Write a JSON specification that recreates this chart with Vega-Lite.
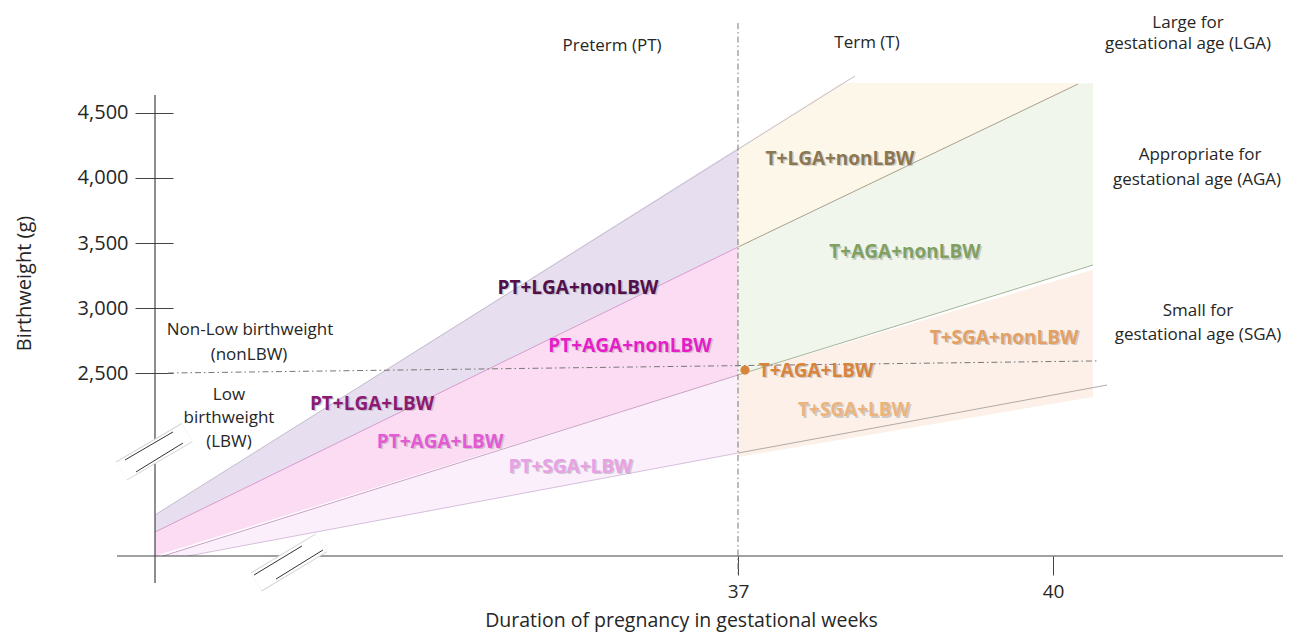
{
  "$schema": "https://vega.github.io/schema/vega-lite/v6.json",
  "width": 1291,
  "height": 633,
  "autosize": "none",
  "padding": 0,
  "background": "white",
  "config": {"view": {"stroke": null}, "font": "Open Sans"},
  "datasets": {
    "bands": [
      {"band": "PT-LGA", "x": 31.4476, "y": 1413, "y2": 1282},
      {"band": "PT-LGA", "x": 37, "y": 4229, "y2": 3469},
      {"band": "PT-AGA", "x": 31.4476, "y": 1282, "y2": 1098},
      {"band": "PT-AGA", "x": 37, "y": 3469, "y2": 2487},
      {"band": "PT-SGA", "x": 31.5238, "y": 1098, "y2": 1098},
      {"band": "PT-SGA", "x": 31.7619, "y": 1159, "y2": 1098},
      {"band": "PT-SGA", "x": 37, "y": 2487, "y2": 1888},
      {"band": "T-LGA", "x": 37, "y": 4229, "y2": 3469},
      {"band": "T-LGA", "x": 37.98, "y": 4728, "y2": 3848},
      {"band": "T-LGA", "x": 40.2381, "y": 4728, "y2": 4720},
      {"band": "T-AGA", "x": 37, "y": 3469, "y2": 2487},
      {"band": "T-AGA", "x": 40.2381, "y": 4720, "y2": 3296},
      {"band": "T-AGA", "x": 40.381, "y": 4728, "y2": 3331},
      {"band": "T-SGA", "x": 37, "y": 2487, "y2": 1858},
      {"band": "T-SGA", "x": 40.381, "y": 3295, "y2": 2318}
    ],
    "boundaries": [
      {"line": "L1", "x": 31.4476, "y": 1413, "x2": 38.1143, "y2": 4782},
      {"line": "L2pt", "x": 31.4476, "y": 1282, "x2": 37, "y2": 3469},
      {"line": "L2t", "x": 37, "y": 3469, "x2": 40.2381, "y2": 4720},
      {"line": "L3pt", "x": 31.5238, "y": 1098, "x2": 37, "y2": 2487},
      {"line": "L3t", "x": 37, "y": 2487, "x2": 40.381, "y2": 3331},
      {"line": "L4pt", "x": 31.7619, "y": 1098, "x2": 37, "y2": 1888},
      {"line": "L4t", "x": 37, "y": 1888, "x2": 40.5143, "y2": 2410}
    ],
    "axislines": [
      {"x": 31.4476, "y": 4636, "x2": 31.4476, "y2": 891},
      {"x": 31.0857, "y": 1098, "x2": 42.1905, "y2": 1098}
    ],
    "dashlines": [
      {"x": 31.5714, "y": 2502, "x2": 40.4286, "y2": 2595},
      {"x": 37, "y": 5188, "x2": 37, "y2": 952}
    ],
    "breakbands": [
      {"x": 31.1276, "y": 1750, "x2": 31.7533, "y2": 2045},
      {"x": 32.4114, "y": 898, "x2": 33.0314, "y2": 1199}
    ],
    "breaklines": [
      {"x": 31.1619, "y": 1835, "x2": 31.619, "y2": 2050},
      {"x": 31.2667, "y": 1743, "x2": 31.7143, "y2": 1965},
      {"x": 32.3905, "y": 952, "x2": 32.8476, "y2": 1175},
      {"x": 32.6, "y": 921, "x2": 33.0476, "y2": 1144}
    ],
    "dot": [{"x": 37.0667, "y": 2525}],
    "labels": [
      {"label": "PT+LGA+nonLBW", "x": 35.4762, "y": 3155},
      {"label": "PT+AGA+nonLBW", "x": 35.9714, "y": 2710},
      {"label": "PT+LGA+LBW", "x": 33.5143, "y": 2265},
      {"label": "PT+AGA+LBW", "x": 34.1619, "y": 1975},
      {"label": "PT+SGA+LBW", "x": 35.4048, "y": 1783},
      {"label": "T+LGA+nonLBW", "x": 37.9714, "y": 4145},
      {"label": "T+AGA+nonLBW", "x": 38.5905, "y": 3431},
      {"label": "T+AGA+LBW", "x": 37.7429, "y": 2518},
      {"label": "T+SGA+nonLBW", "x": 39.5333, "y": 2771},
      {"label": "T+SGA+LBW", "x": 38.1048, "y": 2218}
    ],
    "notes": [
      {"note": "Preterm (PT)", "x": 35.8, "y": 5012},
      {"note": "Term (T)", "x": 38.2286, "y": 5035},
      {"note": "Large for", "x": 41.2857, "y": 5189},
      {"note": "gestational age (LGA)", "x": 41.2857, "y": 5027},
      {"note": "Appropriate for", "x": 41.4, "y": 4175},
      {"note": "gestational age (AGA)", "x": 41.3714, "y": 3984},
      {"note": "Small for", "x": 41.381, "y": 2978},
      {"note": "gestational age (SGA)", "x": 41.381, "y": 2794},
      {"note": "Non-Low birthweight", "x": 32.3524, "y": 2832},
      {"note": "(nonLBW)", "x": 32.3429, "y": 2641},
      {"note": "Low", "x": 32.1524, "y": 2334},
      {"note": "birthweight", "x": 32.1524, "y": 2157},
      {"note": "(LBW)", "x": 32.1524, "y": 1973}
    ]
  },
  "encoding": {
    "x": {
      "field": "x", "type": "quantitative",
      "scale": {"domain": [29.9714, 42.2667], "nice": false, "zero": false},
      "axis": {
        "values": [37, 40], "format": "d", "domain": false, "grid": false,
        "tickSize": 19, "tickColor": "#444444", "tickWidth": 1, "offset": -77,
        "labelFont": "Open Sans", "labelFontSize": 19, "labelColor": "#262626", "labelPadding": 7,
        "title": "Duration of pregnancy in gestational weeks",
        "titleFont": "Open Sans", "titleFontSize": 19.5, "titleFontWeight": "normal", "titleColor": "#262626",
        "titleX": 681, "titleY": 64, "titleBaseline": "middle", "titleAlign": "center"
      }
    },
    "y": {
      "field": "y", "type": "quantitative",
      "scale": {"domain": [507, 5365], "nice": false, "zero": false},
      "axis": {
        "values": [2500, 3000, 3500, 4000, 4500], "format": ",.0f", "domain": false, "grid": false,
        "tickSize": 38, "tickColor": "#444444", "tickWidth": 1, "offset": -173,
        "labelFont": "Open Sans", "labelFontSize": 20, "labelColor": "#262626", "labelPadding": 7,
        "title": "Birthweight (g)",
        "titleFont": "Open Sans", "titleFontSize": 20, "titleFontWeight": "normal", "titleColor": "#262626",
        "titleX": -149, "titleY": 283, "titleAngle": -90, "titleBaseline": "middle", "titleAlign": "center"
      }
    }
  },
  "layer": [
    {
      "data": {"name": "bands"},
      "mark": {"type": "area", "opacity": 1},
      "encoding": {
        "y2": {"field": "y2"},
        "fill": {
          "field": "band", "type": "nominal", "legend": null,
          "scale": {
            "domain": ["PT-LGA", "PT-AGA", "PT-SGA", "T-LGA", "T-AGA", "T-SGA"],
            "range": ["#e7dfef", "#fcdcf3", "#fbeffb", "#fdf7e9", "#f0f6eb", "#fcf0e9"]
          }
        }
      }
    },
    {
      "data": {"name": "boundaries"},
      "mark": {"type": "rule", "strokeWidth": 1},
      "encoding": {
        "x2": {"field": "x2"},
        "y2": {"field": "y2"},
        "stroke": {
          "field": "line", "type": "nominal", "legend": null,
          "scale": {
            "domain": ["L1", "L2pt", "L2t", "L3pt", "L3t", "L4pt", "L4t"],
            "range": ["#c4bccf", "#d49bd0", "#a9a08c", "#c9a1c6", "#a3b59a", "#d6bfdc", "#b3aaa6"]
          }
        }
      }
    },
    {
      "data": {"name": "axislines"},
      "mark": {"type": "rule", "stroke": "#444444", "strokeWidth": 1.2},
      "encoding": {"x2": {"field": "x2"}, "y2": {"field": "y2"}}
    },
    {
      "data": {"name": "dashlines"},
      "mark": {"type": "rule", "stroke": "#777777", "strokeWidth": 1, "strokeDash": [6, 3, 1.5, 3]},
      "encoding": {"x2": {"field": "x2"}, "y2": {"field": "y2"}}
    },
    {
      "data": {"name": "breakbands"},
      "mark": {"type": "rule", "stroke": "#d6d6d6", "strokeWidth": 22, "strokeCap": "butt"},
      "encoding": {"x2": {"field": "x2"}, "y2": {"field": "y2"}}
    },
    {
      "data": {"name": "breakbands"},
      "mark": {"type": "rule", "stroke": "#ffffff", "strokeWidth": 20, "strokeCap": "butt"},
      "encoding": {"x2": {"field": "x2"}, "y2": {"field": "y2"}}
    },
    {
      "data": {"name": "breaklines"},
      "mark": {"type": "rule", "stroke": "#333333", "strokeWidth": 1},
      "encoding": {"x2": {"field": "x2"}, "y2": {"field": "y2"}}
    },
    {
      "data": {"name": "dot"},
      "mark": {"type": "point", "filled": true, "color": "#d8843c", "size": 85, "opacity": 1}
    },
    {
      "data": {"name": "labels"},
      "mark": {"type": "text", "font": "Open Sans", "fontSize": 19, "fontWeight": "bold", "align": "center", "baseline": "middle", "dx": 1.5, "dy": 1.5, "color": "#9a9a9a", "opacity": 0.45},
      "encoding": {"text": {"field": "label"}}
    },
    {
      "data": {"name": "labels"},
      "mark": {"type": "text", "font": "Open Sans", "fontSize": 19, "fontWeight": "bold", "align": "center", "baseline": "middle"},
      "encoding": {
        "text": {"field": "label"},
        "color": {
          "field": "label", "type": "nominal", "legend": null,
          "scale": {
            "domain": ["PT+LGA+nonLBW", "PT+AGA+nonLBW", "PT+LGA+LBW", "PT+AGA+LBW", "PT+SGA+LBW", "T+LGA+nonLBW", "T+AGA+nonLBW", "T+AGA+LBW", "T+SGA+nonLBW", "T+SGA+LBW"],
            "range": ["#520f4a", "#e61ec8", "#8c1a72", "#e25ad4", "#e7a2e6", "#8c7753", "#80a062", "#d8843c", "#e2a062", "#ebb47c"]
          }
        }
      }
    },
    {
      "data": {"name": "notes"},
      "mark": {"type": "text", "font": "Open Sans", "fontSize": 17, "align": "center", "baseline": "middle", "color": "#262626"},
      "encoding": {"text": {"field": "note"}}
    }
  ]
}
